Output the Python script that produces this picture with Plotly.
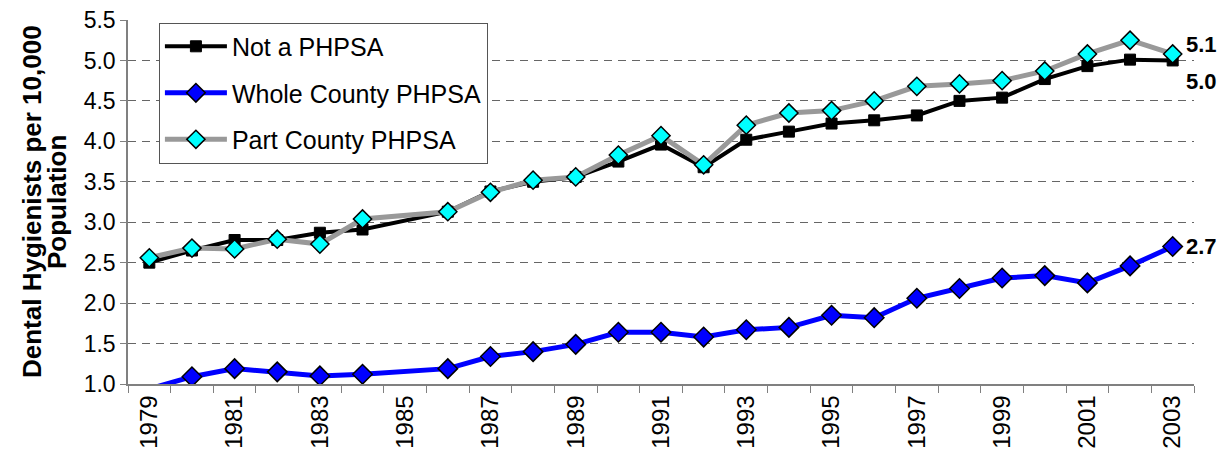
import plotly.graph_objects as go

years = [1979, 1980, 1981, 1982, 1983, 1984, 1986, 1987, 1988, 1989, 1990, 1991,
         1992, 1993, 1994, 1995, 1996, 1997, 1998, 1999, 2000, 2001, 2002, 2003]

not_phpsa = [2.50, 2.65, 2.78, 2.78, 2.87, 2.91, 3.13, 3.38, 3.50, 3.56, 3.75, 3.96,
             3.68, 4.02, 4.12, 4.22, 4.26, 4.32, 4.50, 4.54, 4.77, 4.93, 5.01, 5.00]

whole_county = [0.94, 1.09, 1.19, 1.15, 1.10, 1.12, 1.19, 1.34, 1.40, 1.49, 1.64, 1.64,
                1.58, 1.67, 1.70, 1.85, 1.82, 2.06, 2.18, 2.31, 2.34, 2.25, 2.46, 2.70]

part_county = [2.56, 2.68, 2.67, 2.79, 2.73, 3.04, 3.13, 3.37, 3.52, 3.56, 3.83, 4.07,
               3.71, 4.20, 4.35, 4.38, 4.50, 4.68, 4.71, 4.75, 4.87, 5.08, 5.25, 5.08]

tick_years = list(range(1979, 2004, 2))
end_labels = ["5.1", "5.0", "2.7"]
end_label_y = [5.20, 4.74, 2.70]
y_title_lines = ["Dental Hygienists per 10,000", "Population"]

Y_MIN, Y_MAX = 1.0, 5.5
sans = "Liberation Sans, Arial, sans-serif"

fig = go.Figure()

fig.add_trace(go.Scatter(
    x=years, y=not_phpsa, name="Not a PHPSA", mode="lines+markers",
    line=dict(color="black", width=4),
    marker=dict(symbol="square", size=11, color="black", line=dict(color="black", width=1)),
    legendgroup="a",
))
fig.add_trace(go.Scatter(
    x=years, y=whole_county, name="Whole County PHPSA", mode="lines+markers",
    line=dict(color="#0000FF", width=5),
    marker=dict(symbol="diamond",
                size=[0 if v < Y_MIN else 15 for v in whole_county],
                color="#0000FF", opacity=1, line=dict(color="black", width=1.5)),
    legendgroup="b",
))
fig.add_trace(go.Scatter(
    x=years, y=part_county, name="Part County PHPSA", mode="lines+markers",
    line=dict(color="#999999", width=5),
    marker=dict(symbol="diamond", size=14, color="#00FFFF", line=dict(color="black", width=1.5)),
    legendgroup="c",
))

for txt, yv in zip(end_labels, end_label_y):
    fig.add_annotation(
        x=2003, y=yv, xref="x", yref="y", text="<b>" + txt + "</b>",
        showarrow=False, xanchor="left", yanchor="middle", xshift=11,
        font=dict(family=sans, size=22, color="black"),
    )

# y-axis title as two tightly spaced lines
for line_txt, xpx in zip(y_title_lines, [-96, -71]):
    fig.add_annotation(
        x=0, y=0.5, xref="paper", yref="paper", text="<b>" + line_txt + "</b>",
        showarrow=False, textangle=-90, xanchor="center", yanchor="middle",
        xshift=xpx, font=dict(family=sans, size=26, color="black"),
    )

fig.update_layout(
    width=1224, height=466,
    margin=dict(l=128, r=30, t=20, b=82),
    paper_bgcolor="white", plot_bgcolor="white",
    showlegend=True,
    legend=dict(
        x=0.029, y=0.993, xanchor="left", yanchor="top",
        bgcolor="white", bordercolor="#555555", borderwidth=1,
        font=dict(family=sans, size=25, color="black"),
        tracegroupgap=11, itemwidth=62,
    ),
)

fig.update_xaxes(
    range=[1978.5, 2003.5], automargin=False,
    tickmode="array", tickvals=tick_years, ticktext=[str(y) for y in tick_years],
    tickangle=-90, ticks="",
    tickfont=dict(family=sans, size=24, color="black"),
    showgrid=False, zeroline=False,
    showline=True, linecolor="#808080", linewidth=1.5,
    minor=dict(ticks="outside", tick0=1978.5, dtick=1, ticklen=7,
               tickcolor="#808080", tickwidth=1, showgrid=False),
)

fig.update_yaxes(
    range=[Y_MIN, Y_MAX], tick0=1.0, dtick=0.5, tickformat=".1f", automargin=False,
    ticks="outside", ticklen=6, tickcolor="#808080",
    tickfont=dict(family=sans, size=23, color="black"),
    showgrid=True, gridcolor="#666666", griddash="8px,6px", gridwidth=1,
    zeroline=False, showline=True, linecolor="#808080", linewidth=1.5,
)

fig.write_html(
    "out.html",
    config={"displayModeBar": False},
    post_script="document.body.style.margin='0';document.body.style.overflow='hidden';",
)
